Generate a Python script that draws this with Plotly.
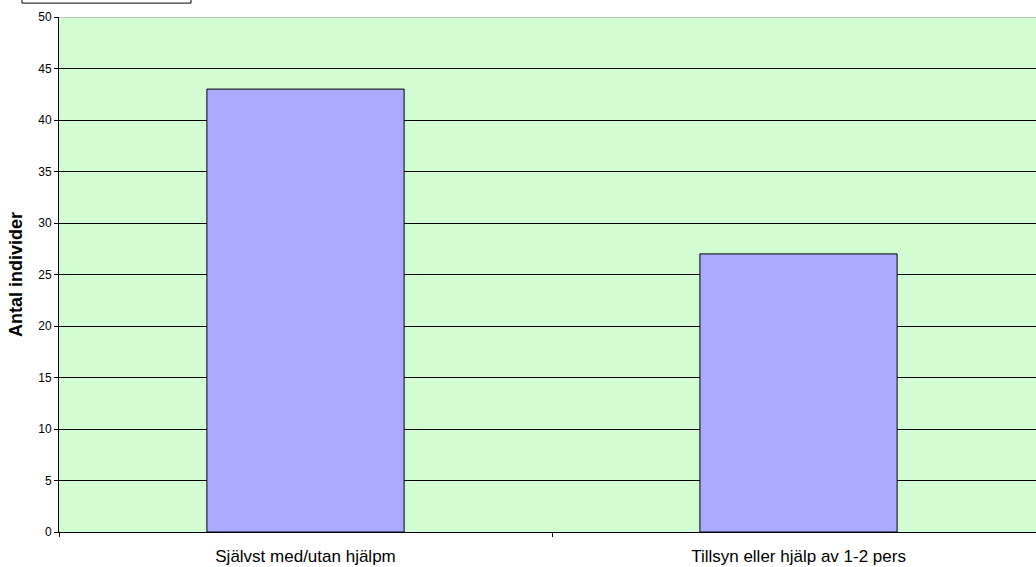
import plotly.graph_objects as go

# Antal individer per kategori
categories = ["Självst med/utan hjälpm", "Tillsyn eller hjälp av 1-2 pers"]
values = [43, 27]
y_ticks = [0, 5, 10, 15, 20, 25, 30, 35, 40, 45, 50]

x_range = [-0.5, 1.4817]
category_bounds = [-0.5, 0.5]

fig = go.Figure()
fig.add_trace(
    go.Bar(
        x=categories,
        y=values,
        width=0.4,
        marker=dict(color="#AAAAFF", line=dict(color="black", width=1)),
        hoverinfo="x+y",
    )
)
# empty trace so the boundary-tick axis gets drawn
fig.add_trace(go.Scatter(x=[None], y=[None], xaxis="x2", yaxis="y",
                         mode="markers", hoverinfo="skip", showlegend=False))

font_family = "Liberation Sans, Arial, sans-serif"

fig.update_layout(
    width=1036,
    height=567,
    margin=dict(l=59, r=0, t=17, b=35),
    paper_bgcolor="white",
    plot_bgcolor="#D2FCD2",
    showlegend=False,
    font=dict(family=font_family, color="black"),
    xaxis=dict(
        type="category",
        range=x_range,
        ticks="",
        showline=True,
        linecolor="black",
        linewidth=1,
        showgrid=False,
        tickfont=dict(size=17, family=font_family),
        ticklabelstandoff=9,
    ),
    # tick marks at the category boundaries
    xaxis2=dict(
        overlaying="x",
        anchor="y",
        side="bottom",
        range=x_range,
        tickvals=category_bounds,
        ticks="outside",
        ticklen=4,
        tickcolor="black",
        showticklabels=False,
        showgrid=False,
        zeroline=False,
        showline=False,
    ),
    yaxis=dict(
        range=[0, 50],
        tickvals=y_ticks,
        ticks="outside",
        ticklen=4,
        tickcolor="black",
        showline=True,
        linecolor="black",
        linewidth=1,
        gridcolor="black",
        gridwidth=1,
        zeroline=False,
        tickfont=dict(size=12, family=font_family),
        title=dict(
            text="<b>Antal individer</b>",
            font=dict(size=18, family=font_family),
            standoff=10,
        ),
    ),
    shapes=[
        # top border of the plotting area
        dict(type="line", xref="paper", yref="y", x0=0, x1=1, y0=50, y1=50,
             line=dict(color="#A0A0A0", width=1), layer="above"),
        # framed box partly above the page edge
        dict(type="rect", xref="paper", yref="paper",
             x0=-0.0379, x1=0.1351, y0=1.027, y1=1.2,
             line=dict(color="black", width=1), fillcolor="white", layer="above"),
    ],
)

fig.write_html("out.html")
